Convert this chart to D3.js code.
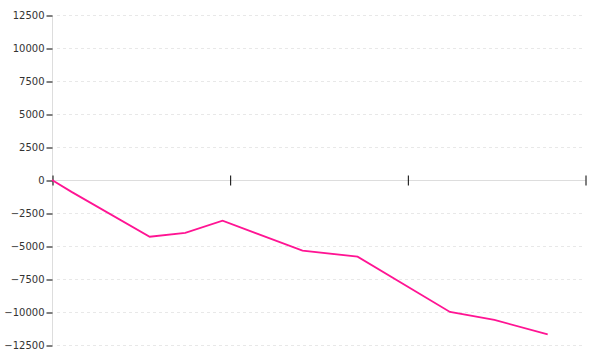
<!DOCTYPE html>
<html>
<head>
<meta charset="utf-8">
<script src="https://cdn.jsdelivr.net/npm/d3@7"></script>
<style>
body { margin: 0; background: #fff; }
svg { display: block; }
</style>
</head>
<body>
<div id="chart"></div>
<script>
// x in axis-tick units (4 unlabelled ticks at 0..3), y in value units
var xs = [0, 0.11, 0.55, 0.75, 0.96, 1.41, 1.72, 2.24, 2.49, 2.79];
var ys = [0, -900, -4300, -4000, -3080, -5350, -5810, -10000, -10600, -11690];
var yTicks = [-12500, -10000, -7500, -5000, -2500, 0, 2500, 5000, 7500, 10000, 12500];
var xTicks = [0, 1, 2, 3];

var width = 600, height = 360;
var svg = d3.select("#chart").append("svg")
	.attr("width", width)
	.attr("height", height);

var x = d3.scaleLinear().domain([0, 3]).range([52, 585]);
var y = d3.scaleLinear().domain([-12500, 12500]).range([345, 15]);

// grid
svg.append("g").selectAll("line").data(yTicks.filter(function(d) { return d != 0; }))
	.enter().append("line")
	.attr("x1", 57).attr("x2", 585)
	.attr("y1", function(d) { return y(d) + 0.5; })
	.attr("y2", function(d) { return y(d) + 0.5; })
	.attr("stroke", "#e8e8e8")
	.attr("stroke-dasharray", "3,3");

// y axis
var yAxis = svg.append("g")
	.attr("transform", "translate(52.5,0.5)")
	.call(d3.axisLeft(y).tickValues(yTicks).tickSize(6).tickPadding(2).tickFormat(d3.format("d")));
yAxis.select(".domain").attr("stroke", "#ddd").attr("d", "M0," + y(12500) + "V" + y(-12500));
yAxis.selectAll(".tick line").attr("stroke", "#000");
yAxis.selectAll("text").attr("font-family", "DejaVu Sans").attr("font-size", 10).attr("fill", "#333");

// x axis at zero
var xAxis = svg.append("g")
	.attr("transform", "translate(0.5," + (y(0) + 0.5) + ")")
	.call(d3.axisBottom(x).tickValues(xTicks).tickSize(5).tickFormat(""));
xAxis.select(".domain").attr("stroke", "#ddd").attr("d", "M" + x(0) + ",0H" + x(3));
xAxis.selectAll(".tick line").attr("stroke", "#000").attr("y1", -5);

// series
var line = d3.line()
	.x(function(d) { return x(d[0]); })
	.y(function(d) { return y(d[1]); });
svg.append("path")
	.datum(d3.zip(xs, ys))
	.attr("d", line)
	.attr("fill", "none")
	.attr("stroke", "#ff1493")
	.attr("stroke-width", 1.8);
</script>
</body>
</html>
